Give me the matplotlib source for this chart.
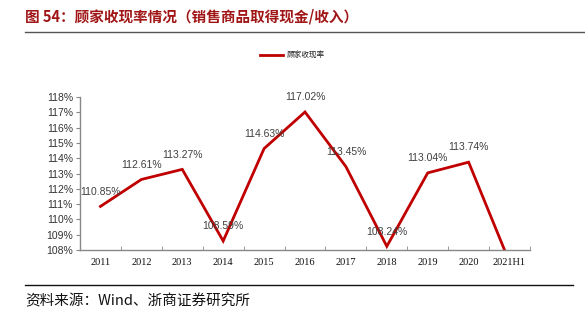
import matplotlib
matplotlib.use("Agg")
import matplotlib.pyplot as plt
from matplotlib.lines import Line2D

plt.rcParams['font.family'] = ['Noto Sans CJK SC', 'DejaVu Sans']

categories = ['2011', '2012', '2013', '2014', '2015', '2016', '2017', '2018', '2019', '2020', '2021H1']
values = [110.85, 112.61, 113.27, 108.59, 114.63, 117.02, 113.45, 108.24, 113.04, 113.74, 107.2]
labels = ['110.85%', '112.61%', '113.27%', '108.59%', '114.63%', '117.02%', '113.45%', '108.24%', '113.04%', '113.74%', '']
yticks = [108, 109, 110, 111, 112, 113, 114, 115, 116, 117, 118]

red = '#C00000'
title_red = '#A01515'

fig = plt.figure(figsize=(5.85, 3.24), dpi=100)
ax = fig.add_axes([80/585, 1 - 250/324, 450/585, 153/324])

x = list(range(len(categories)))
ax.plot(x, values, color=red, lw=2.0, clip_on=True, solid_joinstyle='miter')
for xi, v, lab in zip(x, values, labels):
    if lab:
        ax.annotate(lab, (xi, v), xytext=(0, 7), textcoords='offset points',
                    ha='center', va='bottom', fontsize=7.5, color='#404040',
                    family=['Liberation Sans'])

ax.set_xlim(-0.5, len(categories) - 0.5)
ax.set_ylim(108, 118)
ax.set_yticks(yticks)
ax.set_yticklabels([f'{t}%' for t in yticks], family=['Liberation Sans'], fontsize=7.5, color='#333333')
ax.set_xticks(x)
ax.set_xticklabels(categories, family=['Liberation Serif'], fontsize=7.5, color='#111111')
ax.set_xticks([i + 0.5 for i in range(-1, len(categories))], minor=True)
ax.tick_params(axis='x', which='major', length=0, pad=6)
ax.tick_params(axis='x', which='minor', direction='in', length=3, color='#888888')
ax.tick_params(axis='y', direction='out', length=3, color='#888888', pad=2)

for s in ['top', 'right']:
    ax.spines[s].set_visible(False)
for s in ['left', 'bottom']:
    ax.spines[s].set_color('#888888')
    ax.spines[s].set_linewidth(1.0)

# title
fig.text(25/585, 1 - 16/324, '图 54：顾家收现率情况（销售商品取得现金/收入）',
         fontsize=10.5, color=title_red, fontweight='bold', va='center', ha='left')
fig.add_artist(Line2D([25/585, 1.0], [1 - 32/324, 1 - 32/324], color='#555555', lw=1.0))

# legend
fig.add_artist(Line2D([260/585, 283/585], [1 - 55/324, 1 - 55/324], color=red, lw=2.0))
fig.text(287/585, 1 - 55/324, '顾家收现率', fontsize=5.5, color='#222222', va='center', ha='left')

# source
fig.add_artist(Line2D([25/585, 573/585], [1 - 285/324, 1 - 285/324], color='#111111', lw=1.0))
fig.text(25/585, 1 - 301/324, '资料来源：Wind、浙商证券研究所', fontsize=10.5, color='#111111',
         va='center', ha='left')

fig.savefig('out.png', dpi=100)
